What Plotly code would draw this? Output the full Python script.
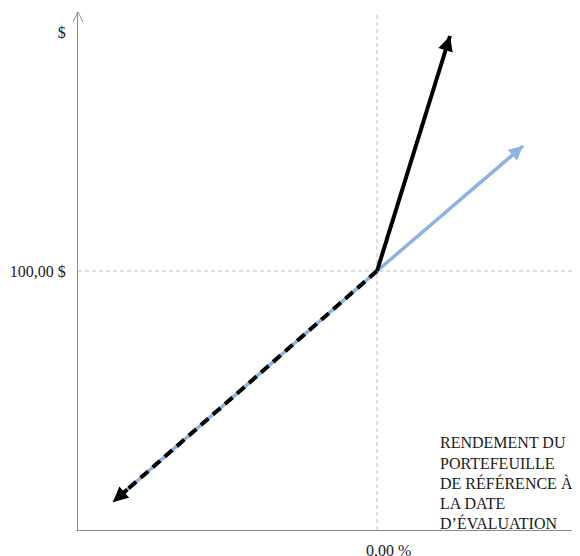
import plotly.graph_objects as go

# Data (x: return %, y: portfolio value $)
origin = (0.0, 100.0)
black_up_end = (7.3, 147.0)
blue_up_end = (14.6, 125.0)
down_end = (-26.4, 53.8)

x_range = [-29.9, 20.3]
y_range = [48.2, 151.8]

ytick_vals = [100, 147.8]
ytick_text = ["100,00 $", "$"]
xlabel_text = "0,00 %"
note_lines = ["RENDEMENT DU", "PORTEFEUILLE", "DE RÉFÉRENCE À", "LA DATE", "D’ÉVALUATION"]
note_y = [0.168, 0.129, 0.090, 0.052, 0.013]

BLACK = "#000000"
BLUE = "#8DB3E2"
GRID = "#BDBDBD"
AXIS = "#8C8C8C"
TEXT = "#1a1a1a"
FONT = "Liberation Serif"

fig = go.Figure()

# lower-left segment: blue under dashed black
fig.add_trace(go.Scatter(x=[origin[0], down_end[0]], y=[origin[1], down_end[1]],
                         mode="lines", line=dict(color=BLUE, width=3.5), hoverinfo="skip"))
fig.add_trace(go.Scatter(x=[origin[0], down_end[0]], y=[origin[1], down_end[1]],
                         mode="lines", line=dict(color=BLACK, width=4, dash="10px,6px"), hoverinfo="skip"))
# blue up segment
fig.add_trace(go.Scatter(x=[origin[0], blue_up_end[0]], y=[origin[1], blue_up_end[1]],
                         mode="lines", line=dict(color=BLUE, width=3.5), hoverinfo="skip"))
# black up segment
fig.add_trace(go.Scatter(x=[origin[0], black_up_end[0]], y=[origin[1], black_up_end[1]],
                         mode="lines", line=dict(color=BLACK, width=4), hoverinfo="skip"))


def head(end, color, width, size):
    sx = end[0] - 0.06 * (end[0] - origin[0])
    sy = end[1] - 0.06 * (end[1] - origin[1])
    fig.add_annotation(x=end[0], y=end[1], ax=sx, ay=sy, xref="x", yref="y",
                       axref="x", ayref="y", showarrow=True, arrowhead=2,
                       arrowsize=size, arrowwidth=width, arrowcolor=color,
                       standoff=0, startstandoff=0, text="")


head(black_up_end, BLACK, 4, 0.75)
head(blue_up_end, BLUE, 3.5, 0.8)
head(down_end, BLACK, 4, 0.75)

# reference dashed lines
fig.add_shape(type="line", xref="x", yref="paper", x0=origin[0], x1=origin[0], y0=0, y1=1,
              line=dict(color=GRID, width=1, dash="4px,3px"), layer="below")
fig.add_shape(type="line", xref="paper", yref="y", x0=0, x1=1, y0=origin[1], y1=origin[1],
              line=dict(color=GRID, width=1, dash="4px,3px"), layer="below")

# y-axis open arrow head
fig.add_shape(type="path", xref="paper", yref="paper", xsizemode="pixel", ysizemode="pixel",
              xanchor=0, yanchor=1, path="M -5 -10 L 0 0 L 5 -10",
              line=dict(color=AXIS, width=1))

# x tick label
fig.add_annotation(x=origin[0], y=0, xref="x", yref="paper", yanchor="top",
                   xanchor="left", xshift=-13, yshift=-10, showarrow=False,
                   text=xlabel_text, font=dict(family=FONT, size=16, color=TEXT))

# note
for line_text, yy in zip(note_lines, note_y):
    fig.add_annotation(x=0.718, y=yy, xref="paper", yref="paper", xanchor="left",
                       yanchor="middle", align="left", showarrow=False, text=line_text,
                       font=dict(family=FONT, size=16, color=TEXT))

fig.update_layout(
    width=572, height=548,
    margin=dict(l=70, r=0, t=4, b=26),
    paper_bgcolor="white", plot_bgcolor="white",
    showlegend=False,
    xaxis=dict(range=x_range, showgrid=False, zeroline=False, showticklabels=False,
               showline=True, linecolor=AXIS, linewidth=1, ticks=""),
    yaxis=dict(range=y_range, showgrid=False, zeroline=False, tickvals=ytick_vals,
               ticktext=ytick_text, showline=True, linecolor=AXIS, linewidth=1,
               ticks="", ticklabelstandoff=8,
               tickfont=dict(family=FONT, size=16, color=TEXT)),
)

fig.write_html("out.html")
